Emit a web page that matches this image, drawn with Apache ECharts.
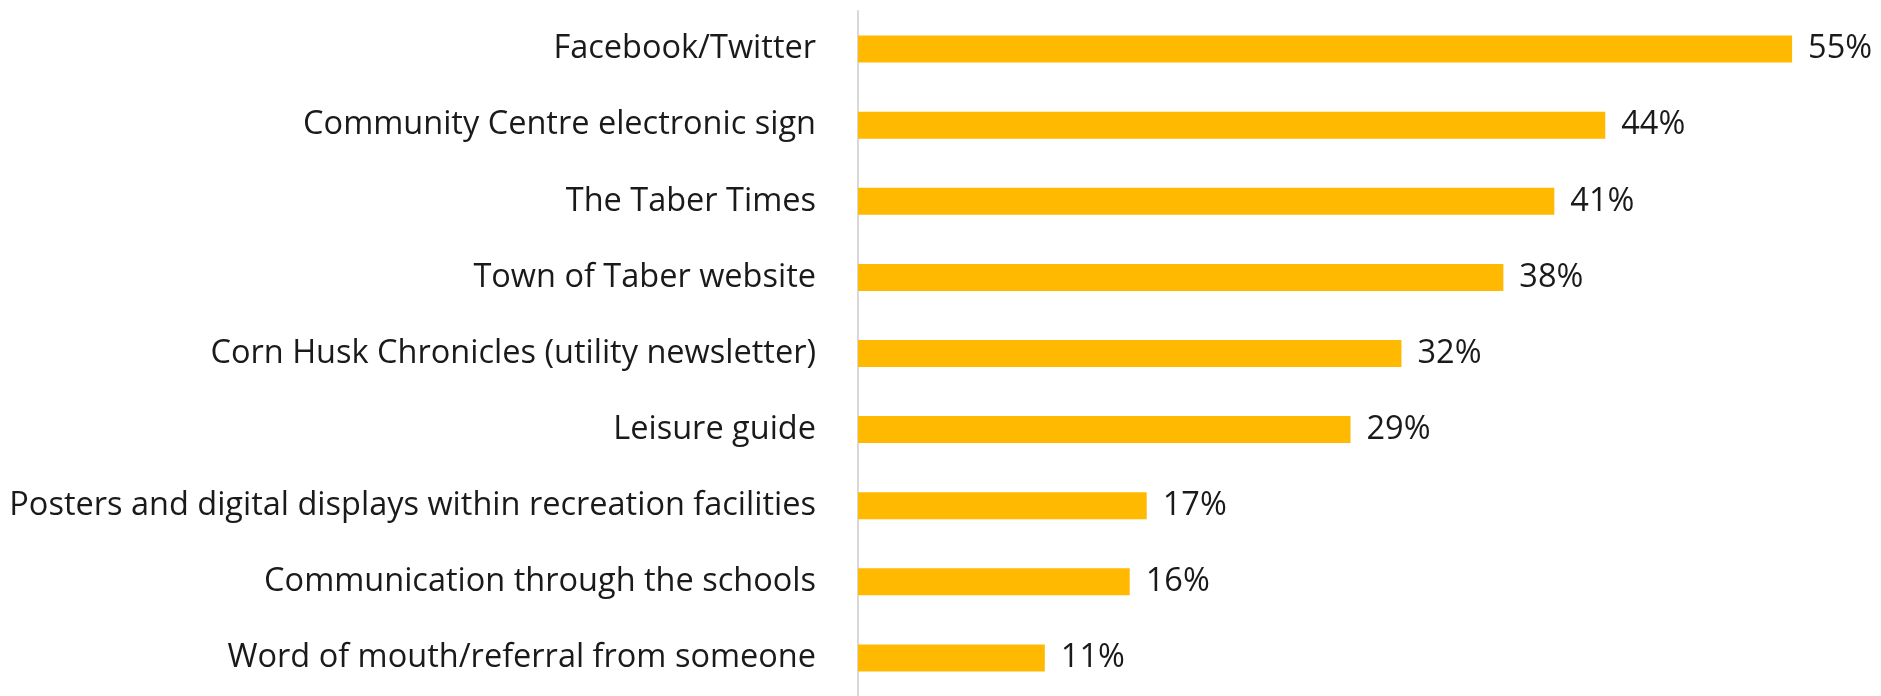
<!DOCTYPE html>
<html>
<head>
<meta charset="utf-8">
<script src="https://cdn.jsdelivr.net/npm/echarts@6/dist/echarts.min.js"></script>
<style>
html,body{margin:0;padding:0;background:#fff;}
#chart{width:1881px;height:696px;}
</style>
</head>
<body>
<div id="chart"></div>
<script>
const categories = [
  "Facebook/Twitter",
  "Community Centre electronic sign",
  "The Taber Times",
  "Town of Taber website",
  "Corn Husk Chronicles (utility newsletter)",
  "Leisure guide",
  "Posters and digital displays within recreation facilities",
  "Communication through the schools",
  "Word of mouth/referral from someone"
];
const values = [55, 44, 41, 38, 32, 29, 17, 16, 11];

const chart = echarts.init(document.getElementById('chart'), null, {renderer: 'canvas'});
chart.setOption({
  animation: false,
  backgroundColor: '#ffffff',
  grid: {left: 858, top: 11, width: 1019, height: 688, containLabel: false},
  xAxis: {
    type: 'value', min: 0, max: 60, show: false
  },
  yAxis: {
    type: 'category',
    data: categories,
    inverse: true,
    axisLine: {show: true, lineStyle: {color: '#d9d9d9', width: 2}},
    axisTick: {show: false},
    axisLabel: {
      margin: 42,
      fontFamily: 'Open Sans',
      fontSize: 32.5,
      color: '#1a1a1a',
      padding: [4, 0, 0, 0]
    }
  },
  series: [{
    type: 'bar',
    data: values,
    barWidth: 27,
    itemStyle: {color: '#FFB900'},
    label: {
      show: true,
      position: 'right',
      distance: 16,
      formatter: '{c}%',
      fontFamily: 'Open Sans',
      fontSize: 32.5,
      color: '#1a1a1a',
      padding: [4, 0, 0, 0]
    }
  }]
});
</script>
</body>
</html>
